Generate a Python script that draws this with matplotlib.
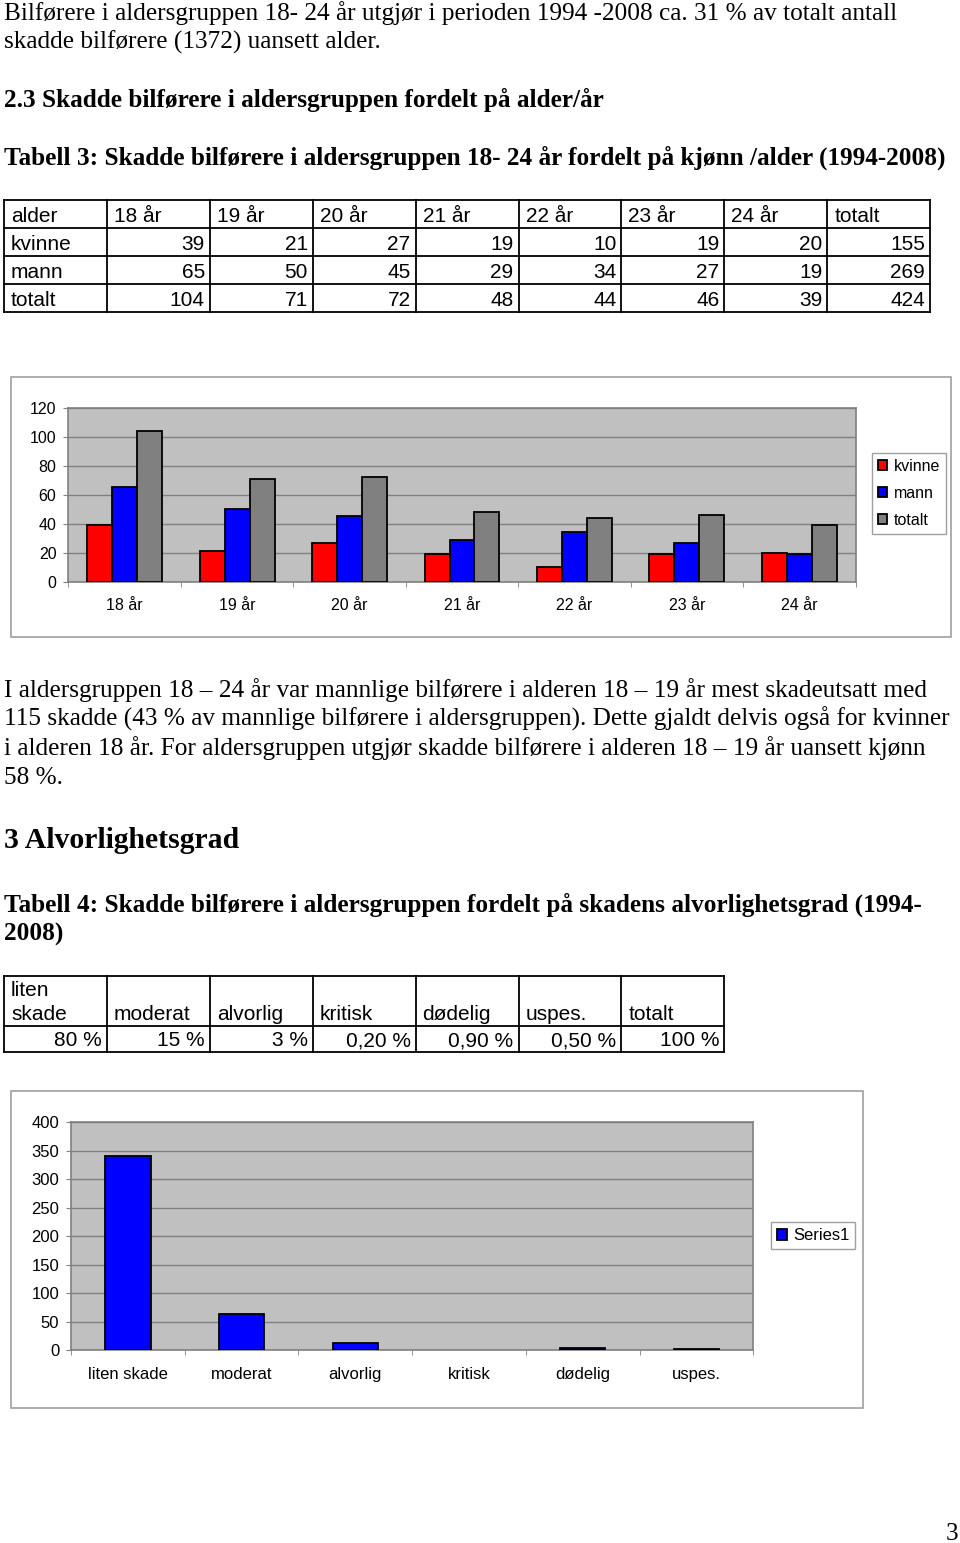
import matplotlib
matplotlib.use("Agg")
import matplotlib.pyplot as plt
from matplotlib.patches import Rectangle
import numpy as np

W, H = 960, 1543
SERIF = "Liberation Serif"
SANS = "Liberation Sans"

# Tabell 3 / figur 1
alder = ["18 år", "19 år", "20 år", "21 år", "22 år", "23 år", "24 år"]
kvinne = [39, 21, 27, 19, 10, 19, 20]
mann = [65, 50, 45, 29, 34, 27, 19]
totalt = [104, 71, 72, 48, 44, 46, 39]
sum_kvinne, sum_mann, sum_totalt = 155, 269, 424

# Tabell 4 / figur 2
grad = ["liten skade", "moderat", "alvorlig", "kritisk", "dødelig", "uspes."]
grad_andel = ["80 %", "15 %", "3 %", "0,20 %", "0,90 %", "0,50 %", "100 %"]
grad_antall = [340, 64, 13, 0, 4, 2]

fig = plt.figure(figsize=(W / 100, H / 100), dpi=100)
page = fig.add_axes([0, 0, 1, 1])
page.set_xlim(0, W)
page.set_ylim(H, 0)
page.axis("off")


def box(x0, y0, x1, y1):
    """Pikselboks -> figurkoordinater."""
    return [x0 / W, 1 - y1 / H, (x1 - x0) / W, (y1 - y0) / H]


def line(x, y, s, size=18.2, bold=False):
    page.text(x, y, s, family=SERIF, fontsize=size, va="baseline",
              fontweight="bold" if bold else "normal")


def draw_table(rows, col_x, row_y, header_rows=1):
    for x in col_x:
        page.plot([x, x], [row_y[0], row_y[-1]], color="black", lw=1.3)
    for y in row_y:
        page.plot([col_x[0], col_x[-1]], [y, y], color="black", lw=1.3)
    for i, row in enumerate(rows):
        base = row_y[i + 1] - 6
        for j, cell in enumerate(row):
            if i < header_rows or j == 0 and isinstance(cell, str) and not cell[0].isdigit():
                parts = cell.split("\n")
                for k, p in enumerate(reversed(parts)):
                    page.text(col_x[j] + 7, base - 24 * k, p, family=SANS,
                              fontsize=15, va="baseline", ha="left")
            else:
                page.text(col_x[j + 1] - 5, base, str(cell), family=SANS,
                          fontsize=15, va="baseline", ha="right")


# tekst
line(4, 20, "Bilførere i aldersgruppen 18- 24 år utgjør i perioden 1994 -2008 ca. 31 % av totalt antall")
line(4, 49, "skadde bilførere (1372) uansett alder.")
line(4, 107, "2.3 Skadde bilførere i aldersgruppen fordelt på alder/år", bold=True)
line(4, 165, "Tabell 3: Skadde bilførere i aldersgruppen 18- 24 år fordelt på kjønn /alder (1994-2008)", bold=True)

cols1 = [4 + 102.9 * i for i in range(9)] + [930]
rows1 = [["alder"] + alder + ["totalt"],
         ["kvinne"] + kvinne + [sum_kvinne],
         ["mann"] + mann + [sum_mann],
         ["totalt"] + totalt + [sum_totalt]]
draw_table(rows1, cols1, [200, 228, 256, 284, 311.7])

# figur 1
page.add_patch(Rectangle((11, 377.3), 939.7, 259.4, fill=False,
                         edgecolor="#a0a0a0", lw=1.2))
ax1 = fig.add_axes(box(68.3, 407.7, 855.7, 581.7))
x = np.arange(len(alder))
w = 1 / 4.5
series = [(kvinne, "#ff0000", "kvinne"), (mann, "#0000ff", "mann"),
          (totalt, "#808080", "totalt")]
for k, (vals, col, lab) in enumerate(series):
    ax1.bar(x + (k - 1) * w, vals, w, color=col, edgecolor="black",
            lw=1.3, label=lab, zorder=3)
ax1.set_xlim(-0.5, len(alder) - 0.5)
ax1.set_ylim(0, 120)
ax1.set_yticks(range(0, 121, 20))
ax1.set_xticks(x)
ax1.set_xticklabels(alder, family=SANS, fontsize=11.5)
ax1.set_xticks(np.arange(-0.5, len(alder), 1), minor=True)

# figur 2
page.add_patch(Rectangle((11, 1090.7), 851.7, 317.6, fill=False,
                         edgecolor="#a0a0a0", lw=1.2))
ax2 = fig.add_axes(box(71, 1122.3, 753.3, 1350))
x2 = np.arange(len(grad))
ax2.bar(x2, grad_antall, 0.4, color="#0000ff", edgecolor="black",
        lw=[1.3 if v > 0 else 0 for v in grad_antall],
        label="Series1", zorder=3)
ax2.set_xlim(-0.5, len(grad) - 0.5)
ax2.set_ylim(0, 400)
ax2.set_yticks(range(0, 401, 50))
ax2.set_xticks(x2)
ax2.set_xticklabels(grad, family=SANS, fontsize=12)
ax2.set_xticks(np.arange(-0.5, len(grad), 1), minor=True)

for ax, fs in ((ax1, 11.5), (ax2, 12)):
    ax.set_facecolor("#c0c0c0")
    ax.yaxis.grid(True, color="#808080", lw=1, zorder=1)
    ax.set_axisbelow(True)
    for s in ax.spines.values():
        s.set_color("#808080")
        s.set_linewidth(1.2)
    ax.tick_params(axis="y", length=3.5, color="#808080", pad=5,
                   labelsize=fs)
    ax.tick_params(axis="x", which="major", length=0, pad=12)
    ax.tick_params(axis="x", which="minor", length=3.5, color="#808080")
    for t in ax.get_yticklabels():
        t.set_family(SANS)

leg1 = ax1.legend(loc="center left", bbox_to_anchor=(872.3 / W, 1 - 493.5 / H),
                  bbox_transform=fig.transFigure, prop={"family": SANS, "size": 11.5},
                  frameon=True, fancybox=False, framealpha=1, edgecolor="#a0a0a0",
                  handlelength=0.6, handleheight=0.6, handletextpad=0.4,
                  labelspacing=0.75, borderpad=0.35, borderaxespad=0)
leg2 = ax2.legend(loc="center left", bbox_to_anchor=(770.7 / W, 1 - 1235.7 / H),
                  bbox_transform=fig.transFigure, prop={"family": SANS, "size": 12},
                  frameon=True, fancybox=False, framealpha=1, edgecolor="#a0a0a0",
                  handlelength=0.6, handleheight=0.6, handletextpad=0.4,
                  borderpad=0.35, borderaxespad=0)
leg2.legend_handles[0].set_linewidth(1.3)

# avsnitt
line(4, 697, "I aldersgruppen 18 – 24 år var mannlige bilførere i alderen 18 – 19 år mest skadeutsatt med")
line(4, 726, "115 skadde (43 % av mannlige bilførere i aldersgruppen). Dette gjaldt delvis også for kvinner")
line(4, 755, "i alderen 18 år. For aldersgruppen utgjør skadde bilførere i alderen 18 – 19 år uansett kjønn")
line(4, 784, "58 %.")
line(4, 848, "3 Alvorlighetsgrad", size=21.4, bold=True)
line(4, 912, "Tabell 4: Skadde bilførere i aldersgruppen fordelt på skadens alvorlighetsgrad (1994-", bold=True)
line(4, 941, "2008)", bold=True)

cols2 = [4 + 102.9 * i for i in range(7)] + [724]
rows2 = [["liten\nskade"] + grad[1:] + ["totalt"], grad_andel]
draw_table(rows2, cols2, [975.7, 1025.7, 1052.3])

page.text(958, 1540, "3", family=SERIF, fontsize=18.2, va="baseline", ha="right")

fig.savefig("out.png", dpi=100)
